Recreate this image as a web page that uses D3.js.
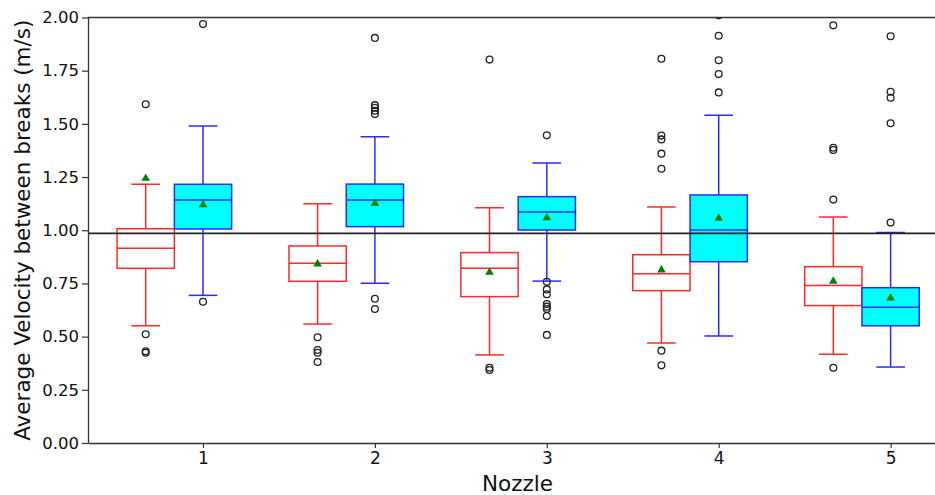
<!DOCTYPE html>
<html>
<head>
<meta charset="utf-8">
<script src="https://cdn.jsdelivr.net/npm/d3@7"></script>
<style>
  body { margin: 0; background: #fff; }
  text { font-family: "DejaVu Sans", sans-serif; fill: #111; }
</style>
</head>
<body>
<script>
var nozzles = [1, 2, 3, 4, 5];
var yTicks = [0, 0.25, 0.5, 0.75, 1.0, 1.25, 1.5, 1.75, 2.0];
var refLine = 0.985;

// red group (left box of each nozzle)
var redLow  = [0.551, 0.559, 0.414, 0.470, 0.417];
var redQ1   = [0.821, 0.760, 0.688, 0.716, 0.646];
var redMed  = [0.915, 0.845, 0.821, 0.796, 0.740];
var redQ3   = [1.007, 0.926, 0.895, 0.885, 0.829];
var redHigh = [1.216, 1.125, 1.106, 1.109, 1.062];
var redMean = [1.244, 0.841, 0.802, 0.813, 0.760];
var redOut  = [
  [1.592, 0.511, 0.431, 0.424],
  [0.497, 0.437, 0.424, 0.381],
  [1.802, 0.354, 0.343],
  [1.806, 1.445, 1.427, 1.360, 1.289, 0.434, 0.365],
  [1.963, 1.388, 1.377, 1.144, 0.354]
];

// blue group (right box, cyan fill)
var blueLow  = [0.694, 0.751, 0.761, 0.503, 0.357];
var blueQ1   = [1.006, 1.017, 1.001, 0.852, 0.551];
var blueMed  = [1.142, 1.142, 1.086, 1.001, 0.638];
var blueQ3   = [1.216, 1.217, 1.158, 1.166, 0.730];
var blueHigh = [1.490, 1.440, 1.316, 1.540, 0.990];
var blueMean = [1.120, 1.127, 1.059, 1.056, 0.682];
var blueOut  = [
  [1.969, 0.664],
  [1.904, 1.588, 1.576, 1.562, 1.546, 0.678, 0.630],
  [1.446, 0.758, 0.722, 0.699, 0.653, 0.641, 0.630, 0.597, 0.508],
  [2.01, 1.914, 1.799, 1.734, 1.648],
  [1.912, 1.651, 1.623, 1.503, 1.036]
];

var W = 935, H = 495;
var padL = 88, padR = 947, padT = 17.5, padB = 443;

var svg = d3.select("body").append("svg").attr("width", W).attr("height", H);

var x = d3.scaleLinear().domain([0.331, 5.328]).range([padL, padR]);
var y = d3.scaleLinear().domain([0, 2]).range([padB, padT]);

svg.append("clipPath").attr("id", "plot")
  .append("rect").attr("x", padL).attr("y", padT).attr("width", padR - padL).attr("height", padB - padT);

var boxW = 1 / 3;

function groupData(offset, low, q1, med, q3, high, mean, out) {
  return nozzles.map(function(n, i) {
    return { pos: n + offset, low: low[i], q1: q1[i], med: med[i], q3: q3[i], high: high[i], mean: mean[i], out: out[i] };
  });
}

var groups = [
  { color: "#ff2b2b", fill: "none", data: groupData(-1 / 3, redLow, redQ1, redMed, redQ3, redHigh, redMean, redOut) },
  { color: "#2b2bff", fill: "#00ffff", data: groupData(0, blueLow, blueQ1, blueMed, blueQ3, blueHigh, blueMean, blueOut) }
];

var plot = svg.append("g").attr("clip-path", "url(#plot)");

groups.forEach(function(g) {
  var b = plot.selectAll(null).data(g.data).enter().append("g");

  // whiskers
  b.append("line")
    .attr("x1", function(d) { return x(d.pos); }).attr("x2", function(d) { return x(d.pos); })
    .attr("y1", function(d) { return y(d.q3); }).attr("y2", function(d) { return y(d.high); })
    .attr("stroke", g.color).attr("stroke-width", 1.5);
  b.append("line")
    .attr("x1", function(d) { return x(d.pos); }).attr("x2", function(d) { return x(d.pos); })
    .attr("y1", function(d) { return y(d.q1); }).attr("y2", function(d) { return y(d.low); })
    .attr("stroke", g.color).attr("stroke-width", 1.5);
  // caps
  ["low", "high"].forEach(function(k) {
    b.append("line")
      .attr("x1", function(d) { return x(d.pos - boxW / 4); }).attr("x2", function(d) { return x(d.pos + boxW / 4); })
      .attr("y1", function(d) { return y(d[k]); }).attr("y2", function(d) { return y(d[k]); })
      .attr("stroke", g.color).attr("stroke-width", 1.5);
  });
  // box
  b.append("rect")
    .attr("x", function(d) { return x(d.pos - boxW / 2); })
    .attr("width", function(d) { return x(d.pos + boxW / 2) - x(d.pos - boxW / 2); })
    .attr("y", function(d) { return y(d.q3); })
    .attr("height", function(d) { return y(d.q1) - y(d.q3); })
    .attr("fill", g.fill).attr("stroke", g.color).attr("stroke-width", 1.5);
  // median
  b.append("line")
    .attr("x1", function(d) { return x(d.pos - boxW / 2); }).attr("x2", function(d) { return x(d.pos + boxW / 2); })
    .attr("y1", function(d) { return y(d.med); }).attr("y2", function(d) { return y(d.med); })
    .attr("stroke", g.color).attr("stroke-width", 1.5);
  // mean
  b.append("path")
    .attr("d", d3.symbol(d3.symbolTriangle, 32))
    .attr("transform", function(d) { return "translate(" + x(d.pos) + "," + y(d.mean) + ")"; })
    .attr("fill", "#008000");
  // fliers
  b.selectAll("circle").data(function(d) { return d.out.map(function(v) { return { pos: d.pos, v: v }; }); })
    .enter().append("circle")
    .attr("cx", function(d) { return x(d.pos); })
    .attr("cy", function(d) { return y(d.v); })
    .attr("r", 3.4)
    .attr("fill", "none").attr("stroke", "#222").attr("stroke-width", 1.3);
});

// reference line
svg.append("line")
  .attr("x1", padL).attr("x2", padR)
  .attr("y1", y(refLine)).attr("y2", y(refLine))
  .attr("stroke", "#222").attr("stroke-width", 1.8);

// axes
var yAxis = svg.append("g").attr("transform", "translate(" + padL + ",0)")
  .call(d3.axisLeft(y).tickValues(yTicks).tickFormat(d3.format(".2f")).tickSize(6).tickSizeOuter(0).tickPadding(3));
var xAxis = svg.append("g").attr("transform", "translate(0," + padB + ")")
  .call(d3.axisBottom(x).tickValues(nozzles).tickFormat(d3.format("d")).tickSize(5).tickSizeOuter(0).tickPadding(4));
[yAxis, xAxis].forEach(function(a) {
  a.selectAll("path").attr("stroke", "#333").attr("stroke-width", 1.3);
  a.selectAll("line").attr("stroke", "#333").attr("stroke-width", 1.2);
  a.selectAll("text").attr("font-size", 16.5).attr("fill", "#111").attr("font-family", "DejaVu Sans");
});
xAxis.selectAll("text").attr("font-size", 17);
// top spine
svg.append("line").attr("x1", padL).attr("x2", padR).attr("y1", padT).attr("y2", padT)
  .attr("stroke", "#333").attr("stroke-width", 1.3);

// labels
svg.append("text")
  .attr("x", (padL + padR) / 2).attr("y", 491)
  .attr("text-anchor", "middle").attr("font-size", 21.5)
  .text("Nozzle");
svg.append("text")
  .attr("transform", "translate(30," + (padT + padB) / 2 + ") rotate(-90)")
  .attr("text-anchor", "middle").attr("font-size", 21.5)
  .text("Average Velocity between breaks (m/s)");
</script>
</body>
</html>
